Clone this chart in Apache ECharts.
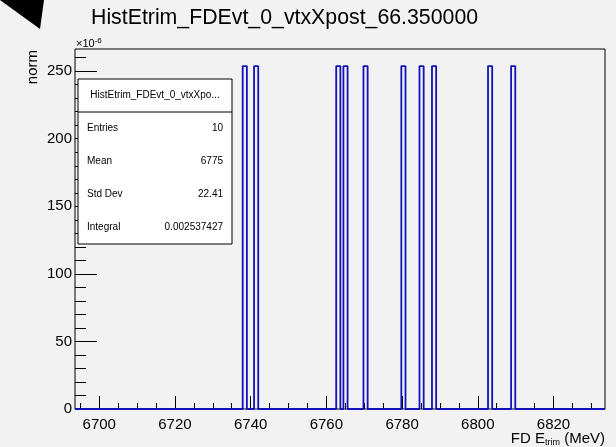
<!DOCTYPE html>
<html>
<head>
<meta charset="utf-8">
<script src="https://cdn.jsdelivr.net/npm/echarts@6/dist/echarts.min.js"></script>
<style>
html,body{margin:0;padding:0;background:#f2f2f2;}
#c{width:616px;height:447px;}
</style>
</head>
<body>
<div id="c"></div>
<script>
// ---- data ----
const chartTitle = 'HistEtrim_FDEvt_0_vtxXpost_66.350000';
const xRange = [6693.6, 6833.6];
const yMax = 266.4;
const xTickLabels = [6700, 6720, 6740, 6760, 6780, 6800, 6820];
const yTickLabels = [0, 50, 100, 150, 200, 250];
const binLowEdges = [6737.9, 6740.9, 6762.6, 6764.5, 6769.8, 6779.8, 6784.6, 6787.9, 6802.7, 6808.8];
const binWidth = 1.1;
const binValues = [253.74, 253.74, 253.74, 253.74, 253.74, 253.74, 253.74, 253.74, 253.74, 253.74];
const statsHeader = 'HistEtrim_FDEvt_0_vtxXpo...';
const statsNames = ['Entries', 'Mean', 'Std Dev', 'Integral'];
const statsValues = ['10', '6775', '22.41', '0.002537427'];

// minor ticks
const xMinor = [];
for (let v = 6695; v <= 6830; v += 5) if (v % 20 !== 0) xMinor.push(v);
const yMinor = [];
for (let v = 10; v <= 260; v += 10) if (v % 50 !== 0) yMinor.push(v);

// histogram outline (step line) built from bins
const pts = [[xRange[0], 0]];
binLowEdges.forEach((lo, i) => {
  const hi = lo + binWidth;
  pts.push([lo, 0], [lo, binValues[i]], [hi, binValues[i]], [hi, 0]);
});
pts.push([xRange[1], 0]);

const FONT = 'Liberation Sans, Arial, Helvetica, sans-serif';
const chart = echarts.init(document.getElementById('c'), null, {renderer: 'canvas'});

const grid = {left: 75, right: 11, top: 49, bottom: 38};
const boxL = 78, boxT = 79, boxW = 154, boxH = 165;
const statsGraphics = [
  {type: 'rect', shape: {x: boxL, y: boxT, width: boxW, height: boxH},
   style: {fill: '#fff', stroke: '#000', lineWidth: 1}, z: 100},
  {type: 'line', shape: {x1: boxL, y1: boxT + 33, x2: boxL + boxW, y2: boxT + 33},
   style: {stroke: '#000', lineWidth: 1}, z: 101},
  {type: 'text', x: boxL + boxW / 2, y: boxT + 16, z: 102,
   style: {text: statsHeader, font: '10px ' + FONT, fill: '#000', textAlign: 'center', textVerticalAlign: 'middle'}}
];
statsNames.forEach((n, i) => {
  const yy = boxT + 49 + i * 33;
  statsGraphics.push({type: 'text', x: boxL + 9, y: yy, z: 102,
    style: {text: n, font: '10px ' + FONT, fill: '#000', textAlign: 'left', textVerticalAlign: 'middle'}});
  statsGraphics.push({type: 'text', x: boxL + boxW - 9, y: yy, z: 102,
    style: {text: statsValues[i], font: '10px ' + FONT, fill: '#000', textAlign: 'right', textVerticalAlign: 'middle'}});
});

const lastX = xTickLabels[xTickLabels.length - 1];
const option = {
  backgroundColor: '#f2f2f2',
  animation: false,
  grid: Object.assign({show: true, borderColor: '#000', borderWidth: 1, backgroundColor: 'transparent'}, grid),
  xAxis: [
    {type: 'value', min: xRange[0], max: xRange[1], position: 'bottom',
     axisLine: {show: false},
     axisTick: {show: true, inside: true, length: 13, customValues: xTickLabels, lineStyle: {color: '#000', width: 1}},
     axisLabel: {show: true, customValues: xTickLabels, fontSize: 15, color: '#000', fontFamily: FONT, margin: 8,
                 formatter: v => (v === lastX ? '{r|' + v + '}' : String(v)),
                 rich: {r: {fontSize: 15, fontFamily: FONT, color: '#000', padding: [0, 0, 8, 0]}}},
     splitLine: {show: false}},
    {type: 'value', min: xRange[0], max: xRange[1], position: 'bottom',
     axisLine: {show: false},
     axisTick: {show: true, inside: true, length: 6, customValues: xMinor, lineStyle: {color: '#000', width: 1}},
     axisLabel: {show: false}, splitLine: {show: false}}
  ],
  yAxis: [
    {type: 'value', min: 0, max: yMax, position: 'left',
     axisLine: {show: false},
     axisTick: {show: true, inside: true, length: 22, customValues: yTickLabels, lineStyle: {color: '#000', width: 1}},
     axisLabel: {show: true, customValues: yTickLabels, fontSize: 15, color: '#000', fontFamily: FONT, margin: 3,
                 formatter: v => String(v)},
     splitLine: {show: false}},
    {type: 'value', min: 0, max: yMax, position: 'left',
     axisLine: {show: false},
     axisTick: {show: true, inside: true, length: 11, customValues: yMinor, lineStyle: {color: '#000', width: 1}},
     axisLabel: {show: false}, splitLine: {show: false}}
  ],
  series: [{
    type: 'line', xAxisIndex: 0, yAxisIndex: 0, data: pts,
    showSymbol: false, symbol: 'none', clip: false, z: 5,
    lineStyle: {color: '#1212b8', width: 1.8}
  }],
  graphic: [
    {type: 'polygon', shape: {points: [[0, 0], [44, 0], [40, 29]]}, style: {fill: '#000'}},
    {type: 'text', x: 91, y: 18,
     style: {text: chartTitle, font: '21.3px ' + FONT, fill: '#000', textAlign: 'left', textVerticalAlign: 'middle'}},
    {type: 'text', x: 76, y: 44,
     style: {text: '{a|×10}{b|-6}', textAlign: 'left', textVerticalAlign: 'middle',
       rich: {a: {fontSize: 11, fontFamily: FONT, color: '#000'},
              b: {fontSize: 8, fontFamily: FONT, color: '#000', verticalAlign: 'top', padding: [0, 0, 7, 0]}}}},
    {type: 'text', x: 33, y: 50, rotation: Math.PI / 2,
     style: {text: 'norm', font: '15px ' + FONT, fill: '#000', textAlign: 'right', textVerticalAlign: 'middle'}},
    {type: 'text', x: 605, y: 439,
     style: {text: '{a|FD E}{b|trim}{a| (MeV)}', textAlign: 'right', textVerticalAlign: 'middle',
       rich: {a: {fontSize: 15, fontFamily: FONT, color: '#000'},
              b: {fontSize: 9, fontFamily: FONT, color: '#000', padding: [8, 0, 0, 0]}}}}
  ].concat(statsGraphics)
};
chart.setOption(option);
</script>
</body>
</html>
